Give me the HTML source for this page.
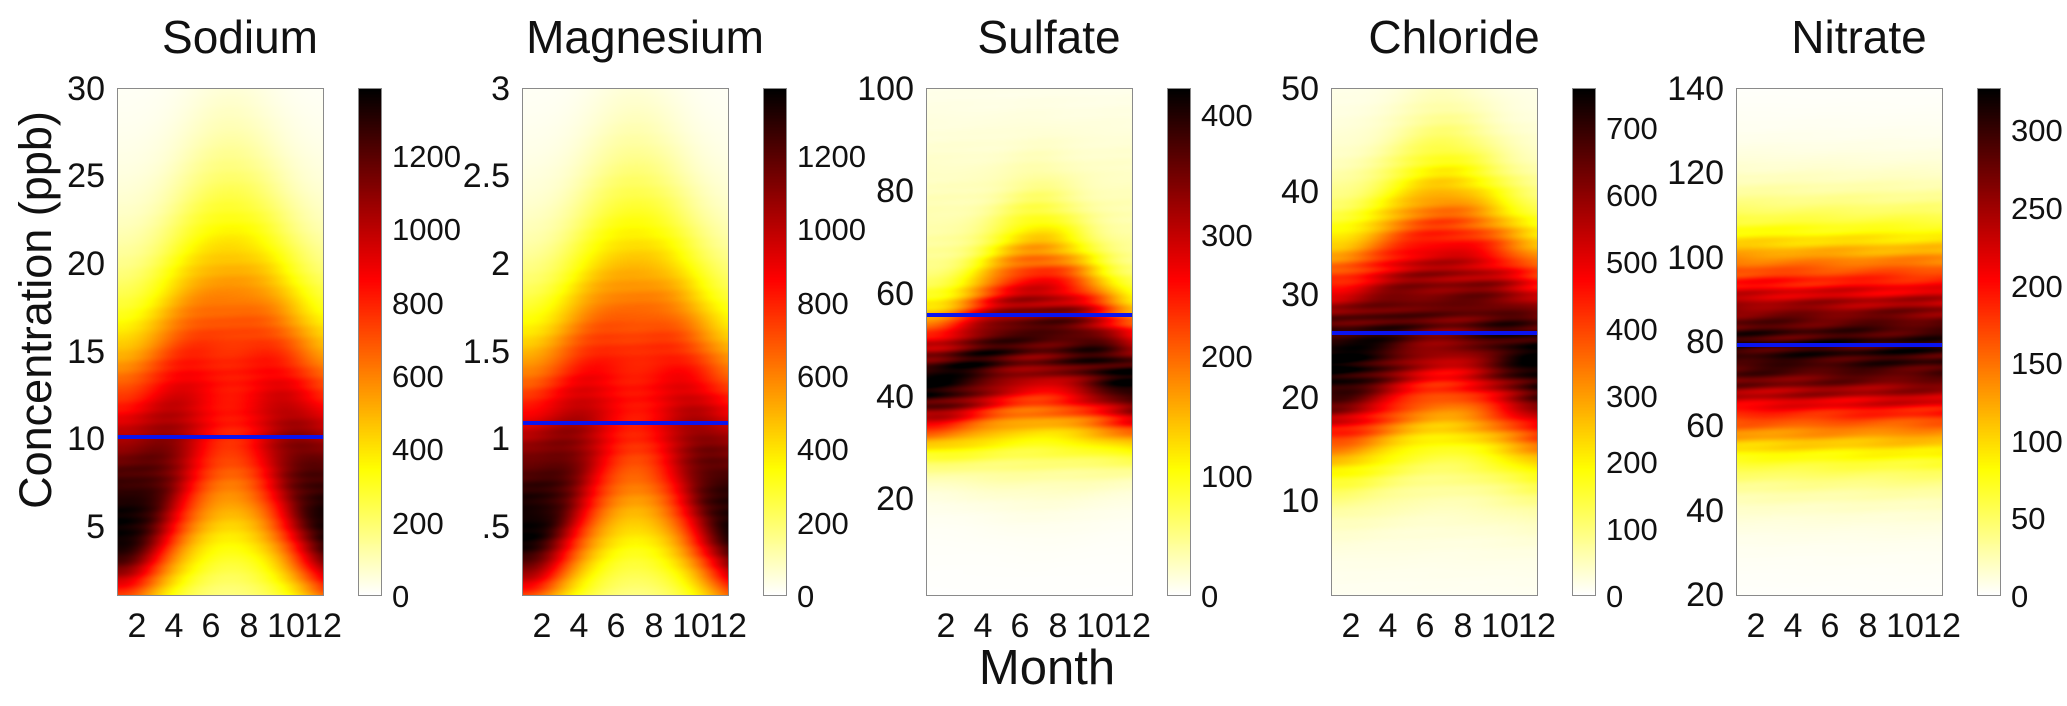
<!DOCTYPE html>
<html><head><meta charset="utf-8">
<style>
html,body{margin:0;padding:0;background:#fff;}
#root{position:relative;width:2067px;height:706px;overflow:hidden;font-family:"Liberation Sans",sans-serif;color:#111;}
canvas{position:absolute;}
.box{position:absolute;border:1.5px solid #8a8a8a;box-sizing:border-box;}
.yl{position:absolute;width:100px;text-align:right;height:40px;line-height:40px;font-size:34px;}
.cl{position:absolute;width:100px;text-align:left;height:40px;line-height:40px;font-size:31px;}
.xl{position:absolute;width:60px;text-align:center;height:40px;line-height:40px;font-size:34px;top:606px;}
.t{position:absolute;width:300px;text-align:center;font-size:46px;line-height:46px;top:14px;}
.blue{position:absolute;height:4px;background:#0a14f0;width:205px;}
</style></head><body><div id="root">
<canvas id="c0" width="205" height="506" style="left:118px;top:89px"></canvas>
<canvas id="c1" width="205" height="506" style="left:523px;top:89px"></canvas>
<canvas id="c2" width="205" height="506" style="left:927px;top:89px"></canvas>
<canvas id="c3" width="205" height="506" style="left:1332px;top:89px"></canvas>
<canvas id="c4" width="205" height="506" style="left:1737px;top:89px"></canvas>
<canvas id="b0" width="22" height="506" style="left:359px;top:89px"></canvas>
<canvas id="b1" width="22" height="506" style="left:764px;top:89px"></canvas>
<canvas id="b2" width="22" height="506" style="left:1168px;top:89px"></canvas>
<canvas id="b3" width="22" height="506" style="left:1573px;top:89px"></canvas>
<canvas id="b4" width="22" height="506" style="left:1978px;top:89px"></canvas>

<div class="box" style="left:117px;top:88px;width:207px;height:508px"></div>
<div class="box" style="left:522px;top:88px;width:207px;height:508px"></div>
<div class="box" style="left:926px;top:88px;width:207px;height:508px"></div>
<div class="box" style="left:1331px;top:88px;width:207px;height:508px"></div>
<div class="box" style="left:1736px;top:88px;width:207px;height:508px"></div>
<div class="box" style="left:358px;top:88px;width:24px;height:508px"></div>
<div class="box" style="left:763px;top:88px;width:24px;height:508px"></div>
<div class="box" style="left:1167px;top:88px;width:24px;height:508px"></div>
<div class="box" style="left:1572px;top:88px;width:24px;height:508px"></div>
<div class="box" style="left:1977px;top:88px;width:24px;height:508px"></div>

<div class="blue" style="left:118px;top:435px"></div>
<div class="blue" style="left:523px;top:421px"></div>
<div class="blue" style="left:927px;top:313px"></div>
<div class="blue" style="left:1332px;top:331px"></div>
<div class="blue" style="left:1737px;top:343px"></div>

<div class="t" style="left:90px">Sodium</div>
<div class="t" style="left:495px">Magnesium</div>
<div class="t" style="left:899px">Sulfate</div>
<div class="t" style="left:1304px">Chloride</div>
<div class="t" style="left:1709px">Nitrate</div>

<div style="position:absolute;left:36px;top:310px;width:0;height:0;">
 <div style="position:absolute;left:-250px;top:-28px;width:500px;text-align:center;font-size:45px;line-height:56px;transform:rotate(-90deg);white-space:nowrap;">Concentration (ppb)</div>
</div>
<div style="position:absolute;left:947px;top:640px;width:200px;text-align:center;font-size:49px;line-height:56px;">Month</div>

<div class="yl" style="left:5px;top:69px">30</div>
<div class="yl" style="left:5px;top:156px">25</div>
<div class="yl" style="left:5px;top:244px">20</div>
<div class="yl" style="left:5px;top:332px">15</div>
<div class="yl" style="left:5px;top:419px">10</div>
<div class="yl" style="left:5px;top:507px">5</div>
<div class="yl" style="left:410px;top:69px">3</div>
<div class="yl" style="left:410px;top:156px">2.5</div>
<div class="yl" style="left:410px;top:244px">2</div>
<div class="yl" style="left:410px;top:332px">1.5</div>
<div class="yl" style="left:410px;top:419px">1</div>
<div class="yl" style="left:410px;top:507px">.5</div>
<div class="yl" style="left:814px;top:69px">100</div>
<div class="yl" style="left:814px;top:171px">80</div>
<div class="yl" style="left:814px;top:274px">60</div>
<div class="yl" style="left:814px;top:377px">40</div>
<div class="yl" style="left:814px;top:479px">20</div>
<div class="yl" style="left:1219px;top:69px">50</div>
<div class="yl" style="left:1219px;top:172px">40</div>
<div class="yl" style="left:1219px;top:275px">30</div>
<div class="yl" style="left:1219px;top:378px">20</div>
<div class="yl" style="left:1219px;top:481px">10</div>
<div class="yl" style="left:1624px;top:69px">140</div>
<div class="yl" style="left:1624px;top:153px">120</div>
<div class="yl" style="left:1624px;top:238px">100</div>
<div class="yl" style="left:1624px;top:322px">80</div>
<div class="yl" style="left:1624px;top:406px">60</div>
<div class="yl" style="left:1624px;top:491px">40</div>
<div class="yl" style="left:1624px;top:575px">20</div>

<div class="cl" style="left:392px;top:577px">0</div>
<div class="cl" style="left:392px;top:504px">200</div>
<div class="cl" style="left:392px;top:430px">400</div>
<div class="cl" style="left:392px;top:357px">600</div>
<div class="cl" style="left:392px;top:284px">800</div>
<div class="cl" style="left:392px;top:210px">1000</div>
<div class="cl" style="left:392px;top:137px">1200</div>

<div class="cl" style="left:797px;top:577px">0</div>
<div class="cl" style="left:797px;top:504px">200</div>
<div class="cl" style="left:797px;top:430px">400</div>
<div class="cl" style="left:797px;top:357px">600</div>
<div class="cl" style="left:797px;top:284px">800</div>
<div class="cl" style="left:797px;top:210px">1000</div>
<div class="cl" style="left:797px;top:137px">1200</div>

<div class="cl" style="left:1201px;top:577px">0</div>
<div class="cl" style="left:1201px;top:457px">100</div>
<div class="cl" style="left:1201px;top:337px">200</div>
<div class="cl" style="left:1201px;top:216px">300</div>
<div class="cl" style="left:1201px;top:96px">400</div>

<div class="cl" style="left:1606px;top:577px">0</div>
<div class="cl" style="left:1606px;top:510px">100</div>
<div class="cl" style="left:1606px;top:443px">200</div>
<div class="cl" style="left:1606px;top:377px">300</div>
<div class="cl" style="left:1606px;top:310px">400</div>
<div class="cl" style="left:1606px;top:243px">500</div>
<div class="cl" style="left:1606px;top:176px">600</div>
<div class="cl" style="left:1606px;top:109px">700</div>

<div class="cl" style="left:2011px;top:577px">0</div>
<div class="cl" style="left:2011px;top:499px">50</div>
<div class="cl" style="left:2011px;top:422px">100</div>
<div class="cl" style="left:2011px;top:344px">150</div>
<div class="cl" style="left:2011px;top:267px">200</div>
<div class="cl" style="left:2011px;top:189px">250</div>
<div class="cl" style="left:2011px;top:111px">300</div>

<div class="xl" style="left:107px">2</div><div class="xl" style="left:144px">4</div><div class="xl" style="left:181px">6</div><div class="xl" style="left:219px">8</div><div class="xl" style="left:256px">10</div><div class="xl" style="left:293px">12</div>
<div class="xl" style="left:512px">2</div><div class="xl" style="left:549px">4</div><div class="xl" style="left:586px">6</div><div class="xl" style="left:624px">8</div><div class="xl" style="left:661px">10</div><div class="xl" style="left:698px">12</div>
<div class="xl" style="left:916px">2</div><div class="xl" style="left:953px">4</div><div class="xl" style="left:990px">6</div><div class="xl" style="left:1028px">8</div><div class="xl" style="left:1065px">10</div><div class="xl" style="left:1102px">12</div>
<div class="xl" style="left:1321px">2</div><div class="xl" style="left:1358px">4</div><div class="xl" style="left:1395px">6</div><div class="xl" style="left:1433px">8</div><div class="xl" style="left:1470px">10</div><div class="xl" style="left:1507px">12</div>
<div class="xl" style="left:1726px">2</div><div class="xl" style="left:1763px">4</div><div class="xl" style="left:1800px">6</div><div class="xl" style="left:1838px">8</div><div class="xl" style="left:1875px">10</div><div class="xl" style="left:1912px">12</div>
</div>
<script>
function cmap(v){v=Math.max(0,Math.min(1,v));var s=1-v;
 var r=Math.min(1,s/0.375),g=Math.max(0,Math.min(1,(s-0.375)/0.375)),b=Math.max(0,Math.min(1,(s-0.75)/0.25));
 return [r*255,g*255,b*255];}
function ag(y,c,sl,su){var s=y<c?sl:su;var z=(y-c)/s;return Math.exp(-0.5*z*z);}
var P=[
 {ymin:1.1,ymax:30,w:[4.5,3,7,0.97],s:[12,6,7.5,0.56],tail:0.04,tc:14,ts:9,noise:0.015},
 {ymin:0.11,ymax:3,w:[0.45,0.3,0.7,0.97],s:[1.2,0.6,0.75,0.56],tail:0.04,tc:1.4,ts:0.9,noise:0.015},
 {ymin:1.3,ymax:100,w:[42,7.5,9,0.93],s:[51,12,13,0.8],tail:0.09,tc:62,ts:22,noise:0.06},
 {ymin:0.9,ymax:50,w:[23,6,7.5,0.95],s:[28,7.5,9,0.78],tail:0.06,tc:28,ts:15,noise:0.05},
 {ymin:20,ymax:140,w:[78,15,17,0.9],s:[78,15,17,0.9],tail:0.03,tc:80,ts:30,noise:0.06}
];
for(var k=0;k<5;k++){
 var p=P[k],cv=document.getElementById('c'+k),ctx=cv.getContext('2d');
 var im=ctx.createImageData(205,506),d=im.data;
 for(var py=0;py<506;py++){
  var y=p.ymax-(py/506)*(p.ymax-p.ymin);
  for(var px=0;px<205;px++){
   var m=1+px/205*11;var w=Math.pow(Math.sin(Math.PI*(m-1)/12),2);
   var c=p.w[0]+(p.s[0]-p.w[0])*w,sl=p.w[1]+(p.s[1]-p.w[1])*w,su=p.w[2]+(p.s[2]-p.w[2])*w,a=p.w[3]+(p.s[3]-p.w[3])*w;
   var v=a*ag(y,c,sl,su);
   if(p.tail)v+=p.tail*ag(y,p.tc,p.ts,p.ts);
   var n=Math.sin(px*0.045+py*0.31+k)*Math.sin(px*0.021-py*0.17+2*k)+0.4*Math.sin(px*0.013+py*0.6+k*3);
   v=v*(1+p.noise*n);
   var col=cmap(v),i=(py*205+px)*4;
   d[i]=col[0];d[i+1]=col[1];d[i+2]=col[2];d[i+3]=255;
  }}
 ctx.putImageData(im,0,0);
 var bc=document.getElementById('b'+k),bx=bc.getContext('2d');
 for(var yy=0;yy<506;yy++){var col=cmap(1-yy/505);bx.fillStyle='rgb('+(col[0]|0)+','+(col[1]|0)+','+(col[2]|0)+')';bx.fillRect(0,yy,22,1);}
}
</script>
</body></html>
